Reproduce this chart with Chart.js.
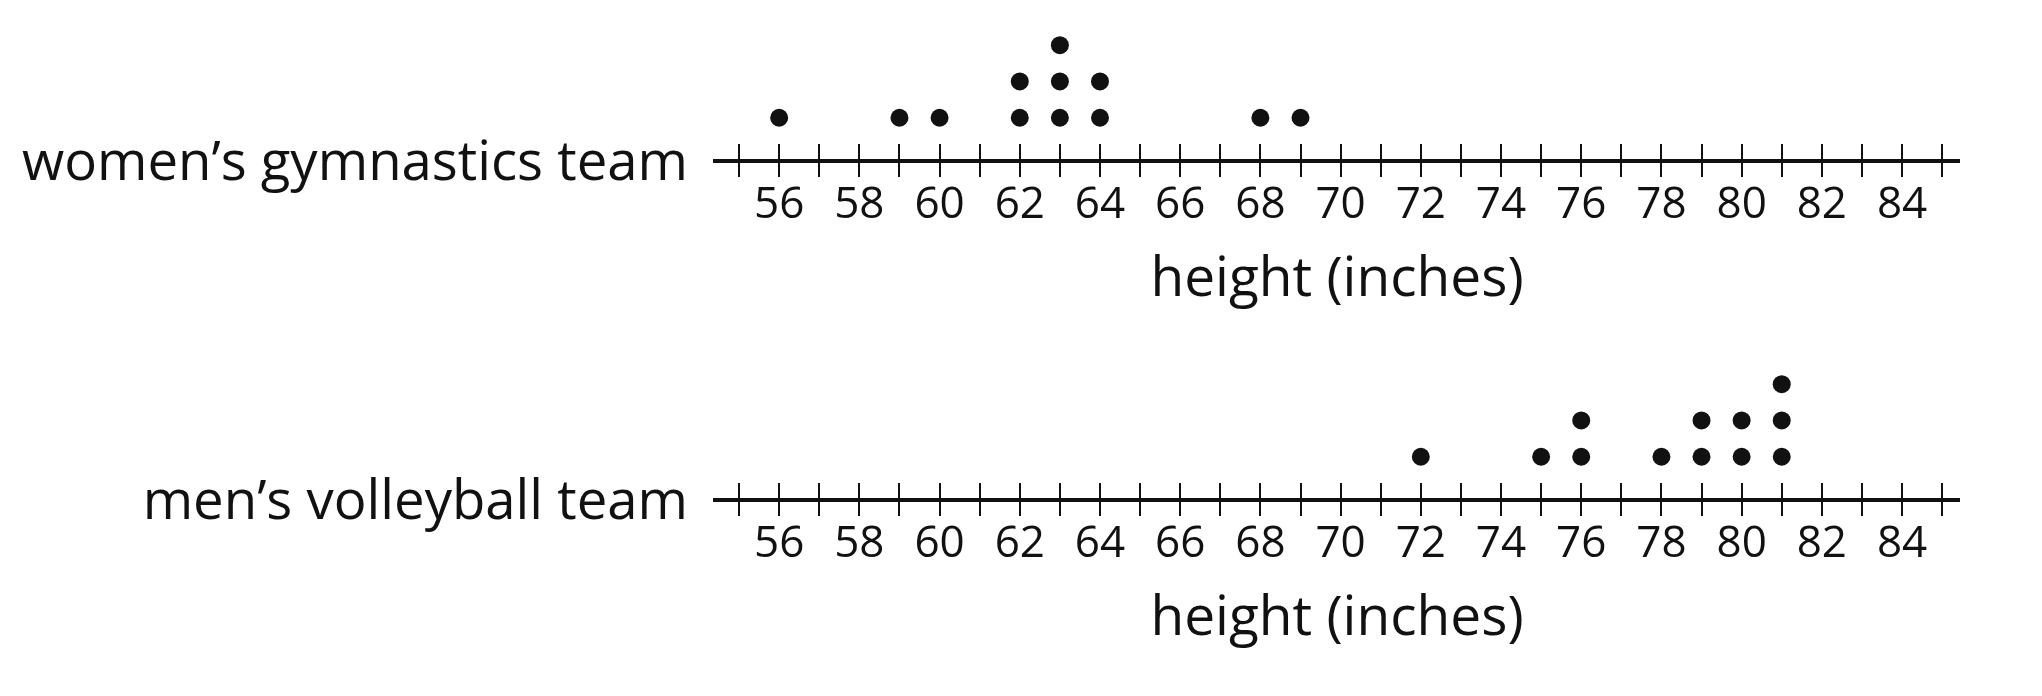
<!DOCTYPE html>
<html lang="en">

<head>
    <meta charset="UTF-8">
    <title>height dot plots</title>
    <style>
        body {
            margin: 0;
            background: #fff;
        }

        .stage {
            position: relative;
            width: 2042px;
            height: 696px;
            overflow: hidden;
        }

        .stage canvas {
            position: absolute;
            left: 0;
        }
    </style>
</head>

<body>
    <div class="stage">
        <canvas id="gymChart" width="2042" height="348" style="top:0px"></canvas>
        <canvas id="volleyChart" width="2042" height="348" style="top:339px"></canvas>
    </div>
    <script src="https://cdn.jsdelivr.net/npm/chart.js"></script>
    <script>
        // heights (inches)
        const gymnasticsHeights = [56, 59, 60, 62, 62, 63, 63, 63, 64, 64, 68, 69];
        const volleyballHeights = [72, 75, 76, 76, 78, 79, 79, 80, 80, 81, 81, 81];

        const teamNames = ['women’s gymnastics team', 'men’s volleyball team'];
        const axisTitle = 'height (inches)';

        // every inch gets a tick, only the even ones get a number
        const tickValues = [55, 56, 57, 58, 59, 60, 61, 62, 63, 64, 65, 66, 67, 68, 69, 70,
            71, 72, 73, 74, 75, 76, 77, 78, 79, 80, 81, 82, 83, 84, 85];
        const tickLabels = [56, 58, 60, 62, 64, 66, 68, 70, 72, 74, 76, 78, 80, 82, 84];

        const ink = '#111111';
        const fontName = "'Open Sans', 'Noto Sans', sans-serif";
        const axisLevel = -0.18; // y value where the number line sits

        function dotPlot(canvasId, teamName, heights) {
            // stack repeated values on top of each other
            const seen = {};
            const points = heights.map(function (h) {
                seen[h] = (seen[h] || 0) + 1;
                return { x: h, y: seen[h] };
            });

            const setTicks = function (axis) {
                axis.ticks = tickValues.map(function (v) { return { value: v }; });
            };

            return new Chart(document.getElementById(canvasId), {
                type: 'scatter',
                data: {
                    datasets: [{
                        data: points,
                        pointRadius: 9,
                        pointHoverRadius: 9,
                        backgroundColor: ink,
                        borderWidth: 0
                    }]
                },
                options: {
                    responsive: false,
                    animation: false,
                    devicePixelRatio: 1,
                    events: [],
                    layout: {
                        padding: { top: 27, bottom: 27, left: 0, right: 83 }
                    },
                    plugins: {
                        legend: { display: false },
                        tooltip: { enabled: false }
                    },
                    scales: {
                        x: {
                            type: 'linear',
                            min: 54.4,
                            max: 85.42,
                            position: { y: axisLevel },
                            afterBuildTicks: setTicks,
                            border: { display: true, color: ink, width: 4 },
                            grid: {
                                drawOnChartArea: false,
                                drawTicks: true,
                                tickLength: 14,
                                tickWidth: 2,
                                lineWidth: 2,
                                tickColor: ink,
                                color: ink
                            },
                            ticks: {
                                autoSkip: false,
                                maxRotation: 0,
                                minRotation: 0,
                                padding: 9,
                                color: ink,
                                font: { family: fontName, size: 44, lineHeight: 1 },
                                callback: function (v) {
                                    return tickLabels.includes(v) ? String(v) : '';
                                }
                            },
                            title: {
                                display: true,
                                text: axisTitle,
                                color: ink,
                                font: { family: fontName, size: 55, lineHeight: 1 },
                                padding: { top: 17, bottom: 0 }
                            }
                        },
                        // second copy of the axis only for the tick halves above the line
                        x2: {
                            type: 'linear',
                            axis: 'x',
                            min: 54.4,
                            max: 85.42,
                            position: { y: axisLevel },
                            afterBuildTicks: setTicks,
                            border: { display: false },
                            grid: {
                                drawOnChartArea: false,
                                drawTicks: true,
                                tickLength: -17,
                                tickWidth: 2,
                                lineWidth: 2,
                                tickColor: ink,
                                color: ink
                            },
                            ticks: { display: false }
                        },
                        y: {
                            type: 'linear',
                            min: -4.6,
                            max: 3.5,
                            position: 'left',
                            afterBuildTicks: function (axis) {
                                axis.ticks = [{ value: axisLevel }];
                            },
                            afterFit: function (axis) {
                                axis.width = 715;
                            },
                            border: { display: false },
                            grid: { display: false, drawTicks: true, tickLength: 27 },
                            ticks: {
                                padding: 0,
                                labelOffset: 4,
                                color: ink,
                                font: { family: fontName, size: 54.5, lineHeight: 0.95 },
                                callback: function () { return teamName; }
                            }
                        }
                    }
                }
            });
        }

        let gymChart = dotPlot('gymChart', teamNames[0], gymnasticsHeights);
        let volleyChart = dotPlot('volleyChart', teamNames[1], volleyballHeights);
    </script>
</body>

</html>
